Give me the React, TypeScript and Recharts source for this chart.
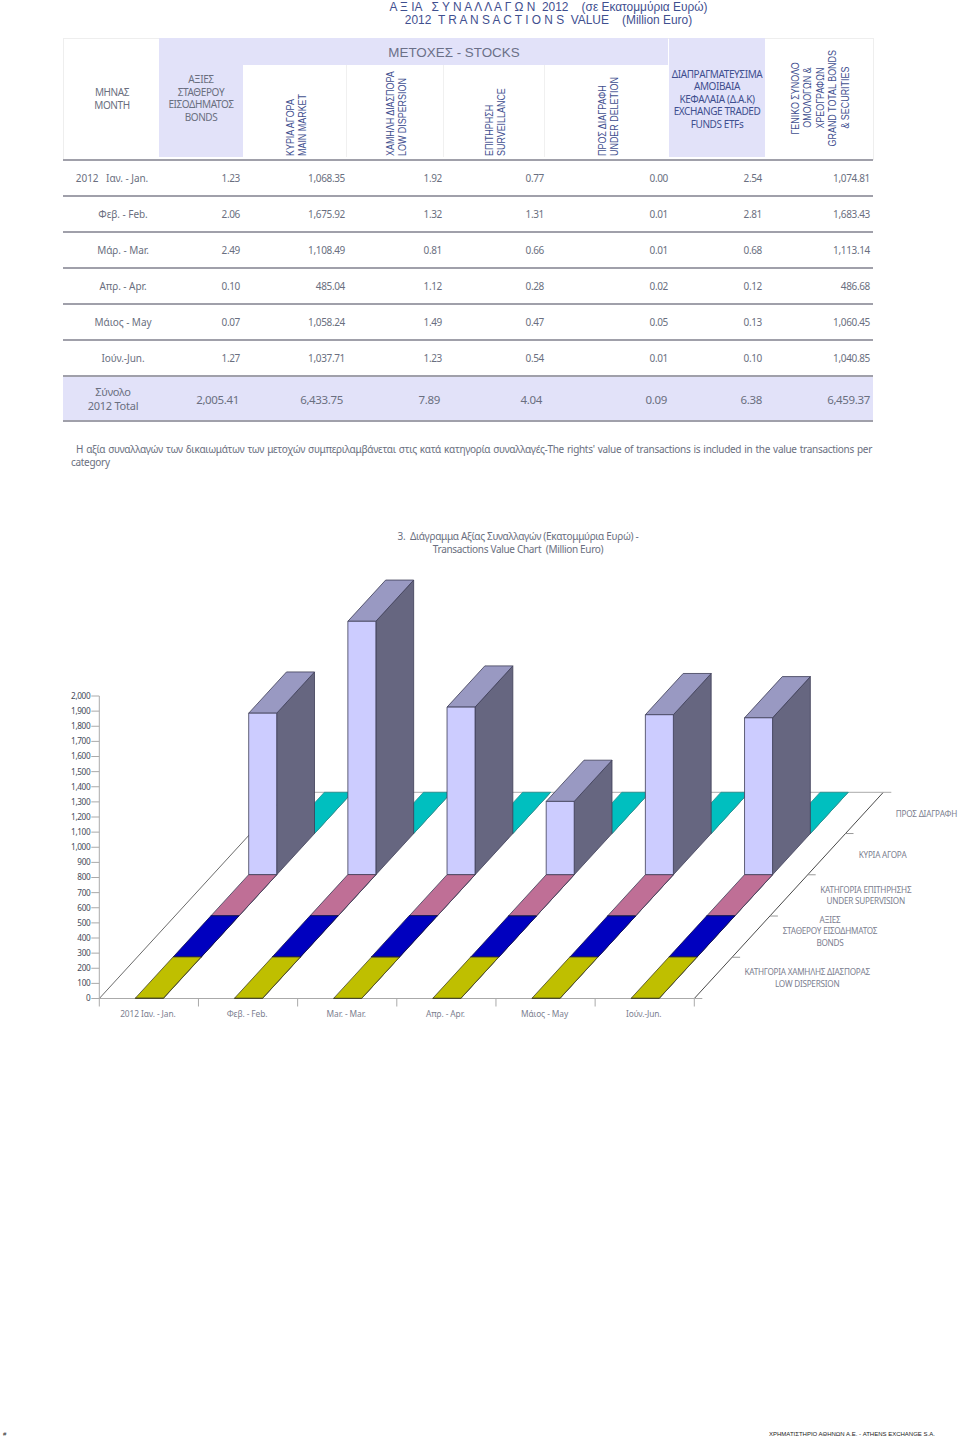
import { BarChart, Bar, XAxis, YAxis, Customized } from "recharts";

// ---------------------------------------------------------------------------
// Data
// ---------------------------------------------------------------------------

const tableMonths = ["2012   Ιαν. - Jan.", "Φεβ. - Feb.", "Μάρ. - Mar.", "Απρ. - Apr.", "Μάιος - May", "Ιούν.-Jun."];
const chartMonths = ["2012  Ιαν. - Jan.", "Φεβ. - Feb.", "Mar. - Mar.", "Απρ. - Apr.", "Μάιος - May", "Ιούν.-Jun."];

const bonds = [1.23, 2.06, 2.49, 0.1, 0.07, 1.27];
const mainMarket = [1068.35, 1675.92, 1108.49, 485.04, 1058.24, 1037.71];
const lowDispersion = [1.92, 1.32, 0.81, 1.12, 1.49, 1.23];
const surveillance = [0.77, 1.31, 0.66, 0.28, 0.47, 0.54];
const underDeletion = [0.0, 0.01, 0.01, 0.02, 0.05, 0.01];
const etfs = [2.54, 2.81, 0.68, 0.12, 0.13, 0.1];
const grandTotal = [1074.81, 1683.43, 1113.14, 486.68, 1060.45, 1040.85];

const yearTotals = [2005.41, 6433.75, 7.89, 4.04, 0.09, 6.38, 6459.37];
const yTicks = [0, 100, 200, 300, 400, 500, 600, 700, 800, 900, 1000, 1100, 1200, 1300, 1400, 1500, 1600, 1700, 1800, 1900, 2000];

const depthLabels = [
  ["ΚΑΤΗΓΟΡΙΑ ΧΑΜΗΛΗΣ ΔΙΑΣΠΟΡΑΣ", "LOW DISPERSION"],
  ["ΑΞΙΕΣ", "ΣΤΑΘΕΡΟΥ ΕΙΣΟΔΗΜΑΤΟΣ", "BONDS"],
  ["ΚΑΤΗΓΟΡΙΑ ΕΠΙΤΗΡΗΣΗΣ", "UNDER SUPERVISION"],
  ["ΚΥΡΙΑ ΑΓΟΡΑ"],
  ["ΠΡΟΣ ΔΙΑΓΡΑΦΗ"],
];

const chartData = chartMonths.map((month, i) => ({
  month,
  bonds: bonds[i],
  mainMarket: mainMarket[i],
  lowDispersion: lowDispersion[i],
  surveillance: surveillance[i],
  underDeletion: underDeletion[i],
}));

// ---------------------------------------------------------------------------
// Layout / styles
// ---------------------------------------------------------------------------

const TAHOMA = "'Noto Sans', sans-serif";
const ARIAL = "'Liberation Sans', Arial, sans-serif";
const NAVY = "#3f4f8f";
const TEXT = "#6a6f80";
const LAVENDER = "#e2e2f9";

const CHART_TOP = 560;
const CHART_W = 960;
const CHART_H = 480;
const PLOT = { left: 99.3, right: 694.3, top: 136, bottom: 438.5 };
const DEPTH_X = 37.8;
const DEPTH_Y = 41.24;
const DEPTH_STEPS = 5;
const BAR_SIZE = 28;

const labelOffsets = [94, 79, 77, 56, 62];
const labelDy = [1, -4.5, 1, 2, 2];
const colRight = [240, 345, 442, 544, 668, 762, 870];
const totalRight = [239, 343, 440, 542, 667, 762, 870];
const rowY = [178, 214, 250, 286, 322, 358];
const ruleY = [160, 196, 232, 268, 304, 340, 376, 421];

const fmt = (v: number) =>
  v.toLocaleString("en-US", { minimumFractionDigits: 2, maximumFractionDigits: 2 });

// ---------------------------------------------------------------------------
// 3D bar drawn from the scale position recharts hands over
// ---------------------------------------------------------------------------

function makeCuboid(depthIndex: number, front: string, top: string, side: string, stroke: string) {
  return function Cuboid(props: any) {
    const { x, y, width, height } = props;
    const ox = depthIndex * DEPTH_X;
    const oy = -depthIndex * DEPTH_Y;
    const l = x + ox;
    const r = x + width + ox;
    const t = y + oy;
    const b = y + height + oy;
    const dx = DEPTH_X;
    const dy = -DEPTH_Y;
    return (
      <g stroke={stroke} strokeWidth={0.8} strokeLinejoin="round">
        <polygon points={`${r},${t} ${r + dx},${t + dy} ${r + dx},${b + dy} ${r},${b}`} fill={side} />
        <polygon points={`${l},${t} ${l + dx},${t + dy} ${r + dx},${t + dy} ${r},${t}`} fill={top} />
        <rect x={l} y={t} width={width} height={height} fill={front} />
      </g>
    );
  };
}

// ---------------------------------------------------------------------------
// Floor of the 3D plot with the depth axis
// ---------------------------------------------------------------------------

function Floor() {
  const backDx = DEPTH_X * DEPTH_STEPS;
  const backDy = DEPTH_Y * DEPTH_STEPS;
  const { left, right, bottom } = PLOT;
  return (
    <g>
      <line x1={left} y1={bottom} x2={left + backDx} y2={bottom - backDy} stroke="#444" strokeWidth={0.8} />
      <line x1={right} y1={bottom} x2={right + backDx} y2={bottom - backDy} stroke="#333" strokeWidth={0.9} />
      <line x1={left + backDx} y1={bottom - backDy} x2={right + backDx + 8} y2={bottom - backDy} stroke="#aaa" strokeWidth={1} />
      <line x1={left} y1={bottom} x2={right + 8} y2={bottom} stroke="#aaa" strokeWidth={1} />
      <line x1={right} y1={bottom} x2={right} y2={bottom + 8} stroke="#aaa" strokeWidth={1} />
      {depthLabels.map((lines, i) => {
        const ex = right + DEPTH_X * (i + 1);
        const ey = bottom - DEPTH_Y * (i + 1);
        const cx = right + DEPTH_X * (i + 0.5) + labelOffsets[i];
        const cy = bottom - DEPTH_Y * (i + 0.5);
        const lineH = 11.6;
        return (
          <g key={lines[0]}>
            {i < DEPTH_STEPS - 1 && (
              <line x1={ex} y1={ey} x2={ex + 8} y2={ey} stroke="#999" strokeWidth={1} />
            )}
            {lines.map((line, j) => (
              <text
                key={line}
                x={cx}
                y={cy + labelDy[i] + (j - (lines.length - 1) / 2) * lineH}
                textAnchor="middle"
                dominantBaseline="middle"
                fontFamily={TAHOMA}
                fontSize={8.2}
                letterSpacing={-0.25}
                fill="#7c8090"
              >
                {line}
              </text>
            ))}
          </g>
        );
      })}
    </g>
  );
}

function MonthTick({ x, y, payload }: any) {
  const band = (PLOT.right - PLOT.left) / chartMonths.length;
  return (
    <g>
      <line x1={x - band / 2} y1={PLOT.bottom} x2={x - band / 2} y2={PLOT.bottom + 8} stroke="#aaa" strokeWidth={1} />
      <text
        x={x - 1}
        y={y + 8.5}
        textAnchor="middle"
        dominantBaseline="middle"
        fontFamily={TAHOMA}
        fontSize={8.4}
        letterSpacing={-0.1}
        fill="#7c8090"
      >
        {payload.value}
      </text>
    </g>
  );
}

// ---------------------------------------------------------------------------
// Small positioned text helpers for the table above the chart
// ---------------------------------------------------------------------------

function Num({ right, y, size = 10, children }: { right: number; y: number; size?: number; children: React.ReactNode }) {
  return (
    <div
      style={{
        position: "absolute",
        right: 960 - right,
        top: y,
        transform: "translateY(-50%)",
        fontFamily: TAHOMA,
        fontSize: size,
        letterSpacing: -0.35,
        color: TEXT,
        whiteSpace: "nowrap",
      }}
    >
      {children}
    </div>
  );
}

function Centered({
  x,
  y,
  lines,
  lineH = 12.5,
  size = 10,
  font = TAHOMA,
  color = TEXT,
  spacing = -0.25,
}: {
  x: number;
  y: number;
  lines: string[];
  lineH?: number;
  size?: number;
  font?: string;
  color?: string;
  spacing?: number;
}) {
  return (
    <div
      style={{
        position: "absolute",
        left: x,
        top: y,
        transform: "translate(-50%, -50%)",
        textAlign: "center",
        whiteSpace: "pre",
        fontFamily: font,
        fontSize: size,
        letterSpacing: spacing,
        lineHeight: `${lineH}px`,
        color,
      }}
    >
      {lines.join("\n")}
    </div>
  );
}

// text runs bottom to top, squeezed along its length like the reference
function VerticalHead({
  x,
  top,
  height,
  lines,
  align = "left",
}: {
  x: number;
  top: number;
  height: number;
  lines: string[];
  align?: "left" | "center";
}) {
  return (
    <div
      style={{
        position: "absolute",
        left: x,
        top,
        height,
        transform: "scaleY(0.85)",
        transformOrigin: align === "left" ? "bottom" : "center",
      }}
    >
      <div
        style={{
          height: "100%",
          writingMode: "vertical-rl",
          transform: "rotate(180deg)",
          textAlign: align,
          whiteSpace: "pre",
          fontFamily: ARIAL,
          fontSize: 10.5,
          lineHeight: "12.4px",
          color: NAVY,
        }}
      >
        {lines.join("\n")}
      </div>
    </div>
  );
}

function Box({ l, t, w, h, bg }: { l: number; t: number; w: number; h: number; bg: string }) {
  return <div style={{ position: "absolute", left: l, top: t, width: w, height: h, background: bg }} />;
}

// ---------------------------------------------------------------------------
// Page
// ---------------------------------------------------------------------------

export default function App() {
  const seriesByRow = [bonds, mainMarket, lowDispersion, surveillance, underDeletion, etfs, grandTotal];

  return (
    <div style={{ position: "absolute", left: 0, top: 0, width: 960, height: 1440, background: "#fff", overflow: "hidden" }}>
      {/* Title */}
      <Centered
        x={548.5}
        y={13.5}
        lines={["Α Ξ ΙΑ   Σ Υ Ν Α Λ Λ Α Γ Ω Ν  2012    (σε Εκατομμύρια Ευρώ)", "2012  T R A N S A C T I O N S  VALUE    (Million Euro)"]}
        font={ARIAL}
        size={11.9}
        lineH={13}
        color={NAVY}
        spacing={0}
      />

      {/* Table header */}
      <div style={{ position: "absolute", left: 63, top: 38, width: 809, height: 120, border: "1px solid #eeeeee" }} />
      <Box l={159} t={38} w={84} h={119} bg={LAVENDER} />
      <Box l={243} t={38} w={425} h={27} bg={LAVENDER} />
      <Box l={669} t={38} w={96} h={119} bg={LAVENDER} />
      {[346, 443, 544].map((x) => (
        <Box key={x} l={x} t={65} w={1} h={92} bg="#f0f0f0" />
      ))}
      <Centered x={112} y={98} lines={["ΜΗΝΑΣ", "MONTH"]} spacing={-0.4} />
      <Centered x={201} y={98} lines={["ΑΞΙΕΣ", "ΣΤΑΘΕΡΟΥ", "ΕΙΣΟΔΗΜΑΤΟΣ", "BONDS"]} spacing={-0.4} />
      <Centered x={454} y={52.5} lines={["ΜΕΤΟΧΕΣ - STOCKS"]} font={ARIAL} size={13.4} color="#6b7088" spacing={0} />
      <Centered
        x={717}
        y={98.5}
        lines={["ΔΙΑΠΡΑΓΜΑΤΕΥΣΙΜΑ", "ΑΜΟΙΒΑΙΑ", "ΚΕΦΑΛΑΙΑ (Δ.Α.Κ)", "EXCHANGE TRADED", "FUNDS ETFs"]}
        color={NAVY}
        spacing={-0.4}
      />
      <VerticalHead x={284} top={66} height={90} lines={["ΚΥΡΙΑ ΑΓΟΡΑ", "MAIN MARKET"]} />
      <VerticalHead x={384} top={66} height={90} lines={["ΧΑΜΗΛΗ ΔΙΑΣΠΟΡΑ", "LOW DISPERSION"]} />
      <VerticalHead x={483} top={66} height={90} lines={["ΕΠΙΤΗΡΗΣΗ", "SURVEILLANCE"]} />
      <VerticalHead x={596} top={66} height={90} lines={["ΠΡΟΣ ΔΙΑΓΡΑΦΗ", "UNDER DELETION"]} />
      <VerticalHead
        x={789}
        top={40}
        height={116}
        align="center"
        lines={["ΓΕΝΙΚΟ ΣΥΝΟΛΟ", "ΟΜΟΛΟΓΩΝ &", "ΧΡΕΟΓΡΑΦΩΝ", "GRAND TOTAL BONDS", "& SECURITIES"]}
      />

      {/* Table body */}
      <Box l={63} t={376} w={810} h={45} bg={LAVENDER} />
      {ruleY.map((y) => (
        <Box key={y} l={63} t={y - 1} w={810} h={1.5} bg="#a0a0aa" />
      ))}
      {tableMonths.map((m, i) => (
        <Centered key={m} x={i === 0 ? 112 : 123} y={rowY[i]} lines={[m]} spacing={-0.05} />
      ))}
      {rowY.map((y, r) =>
        seriesByRow.map((col, c) => (
          <Num key={`${r}-${c}`} right={colRight[c]} y={y}>
            {fmt(col[r])}
          </Num>
        ))
      )}
      <Centered x={113} y={399} lines={["Σύνολο", "2012 Total"]} size={11} lineH={14} />
      {yearTotals.map((v, c) => (
        <Num key={c} right={totalRight[c]} y={399} size={11.5}>
          {fmt(v)}
        </Num>
      ))}

      {/* Note */}
      <div
        style={{
          position: "absolute",
          left: 76,
          top: 443,
          width: 796,
          fontFamily: TAHOMA,
          fontSize: 10,
          lineHeight: "13px",
          letterSpacing: -0.3,
          color: TEXT,
          textAlign: "justify",
          textAlignLast: "justify",
          whiteSpace: "nowrap",
        }}
      >
        Η αξία συναλλαγών των δικαιωμάτων των μετοχών συμπεριλαμβάνεται στις κατά κατηγορία συναλλαγές-The rights' value of transactions is included in the value transactions per
      </div>
      <div
        style={{
          position: "absolute",
          left: 71,
          top: 456,
          fontFamily: TAHOMA,
          fontSize: 10,
          lineHeight: "13px",
          letterSpacing: -0.3,
          color: TEXT,
        }}
      >
        category
      </div>

      {/* Chart title */}
      <Centered
        x={518}
        y={542.5}
        lines={["3.  Διάγραμμα Αξίας Συναλλαγών (Εκατομμύρια Ευρώ) -", "Transactions Value Chart  (Million Euro)"]}
        lineH={13}
        spacing={-0.32}
      />

      {/* Chart */}
      <div style={{ position: "absolute", left: 0, top: CHART_TOP }}>
        <BarChart
          width={CHART_W}
          height={CHART_H}
          data={chartData}
          margin={{ left: 40, right: CHART_W - PLOT.right, top: PLOT.top, bottom: CHART_H - PLOT.bottom - 30 }}
          barSize={BAR_SIZE}
          barGap={-BAR_SIZE}
        >
          <Customized component={<Floor />} />
          <XAxis
            dataKey="month"
            axisLine={false}
            tickLine={false}
            height={30}
            interval={0}
            tick={<MonthTick />}
          />
          <YAxis
            width={59.3}
            domain={[0, 2000]}
            ticks={yTicks}
            interval={0}
            tickSize={8}
            tickMargin={1}
            axisLine={{ stroke: "#aaa" }}
            tickLine={{ stroke: "#aaa" }}
            tick={{ fontFamily: TAHOMA, fontSize: 8.2, fill: "#444a58", letterSpacing: -0.35 }}
            tickFormatter={(v: number) => v.toLocaleString("en-US")}
          />
          <Bar dataKey="underDeletion" isAnimationActive={false} shape={makeCuboid(4, "#00bfbf", "#00bfbf", "#008080", "#2a8f8f")} />
          <Bar dataKey="mainMarket" isAnimationActive={false} shape={makeCuboid(3, "#ccccff", "#9999c2", "#666680", "#3c3c55")} />
          <Bar dataKey="surveillance" isAnimationActive={false} shape={makeCuboid(2, "#bf6f96", "#bf6f96", "#804a64", "#3c3c55")} />
          <Bar dataKey="bonds" isAnimationActive={false} shape={makeCuboid(1, "#0000bf", "#0000bf", "#000080", "#101050")} />
          <Bar dataKey="lowDispersion" isAnimationActive={false} shape={makeCuboid(0, "#bfbf00", "#bfbf00", "#808000", "#45452a")} />
        </BarChart>
      </div>

      {/* Footer */}
      <div style={{ position: "absolute", left: 3, top: 1431, fontFamily: ARIAL, fontSize: 6, color: "#222" }}>#</div>
      <div style={{ position: "absolute", left: 769, top: 1431, fontFamily: ARIAL, fontSize: 6, color: "#222", whiteSpace: "nowrap" }}>
        ΧΡΗΜΑΤΙΣΤΗΡΙΟ ΑΘΗΝΩΝ Α.Ε. - ATHENS EXCHANGE S.A.
      </div>
    </div>
  );
}
